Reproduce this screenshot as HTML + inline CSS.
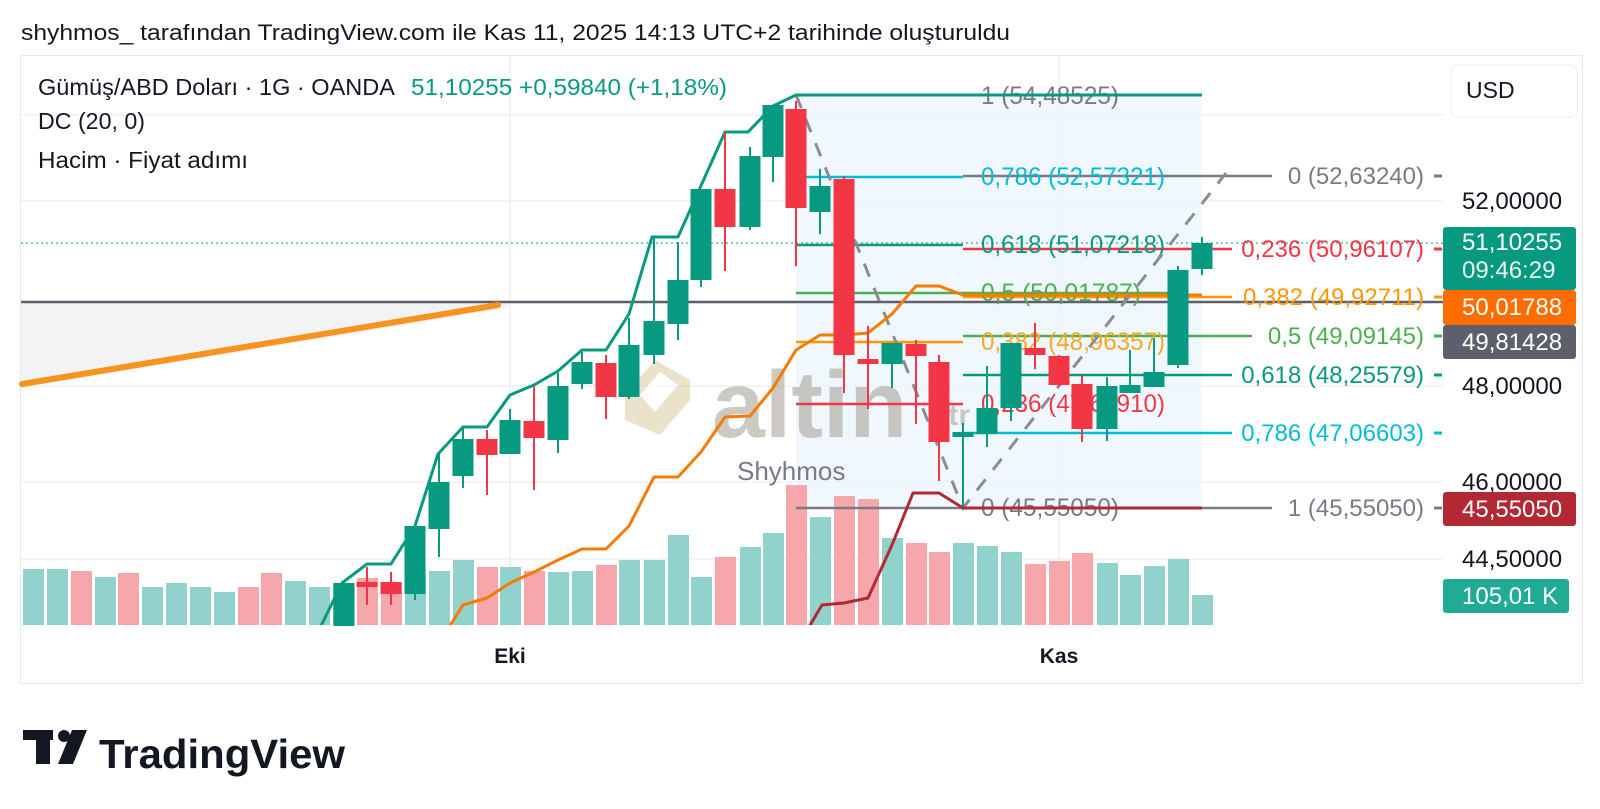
<!DOCTYPE html>
<html><head><meta charset="utf-8"><style>
html,body{margin:0;padding:0;background:#fff;width:1600px;height:809px;overflow:hidden}
svg{display:block}
text{font-family:"Liberation Sans",sans-serif}
</style></head><body>
<svg width="1600" height="809" viewBox="0 0 1600 809" xmlns="http://www.w3.org/2000/svg">
<rect width="1600" height="809" fill="#fff"/>
<text x="21" y="40" font-size="22" fill="#131722" textLength="989" lengthAdjust="spacingAndGlyphs">shyhmos_ tarafından TradingView.com ile Kas 11, 2025 14:13 UTC+2 tarihinde oluşturuldu</text>
<rect x="20.5" y="55.5" width="1562" height="628" fill="#fff" stroke="#e6e8ee"/>
<g stroke="#eef0f3" stroke-width="1.5">
<line x1="21" y1="201" x2="1443" y2="201"/><line x1="21" y1="386" x2="1443" y2="386"/>
<line x1="21" y1="482" x2="1443" y2="482"/><line x1="21" y1="559" x2="1443" y2="559"/>
<line x1="21" y1="115" x2="1443" y2="115"/>
<line x1="510" y1="56" x2="510" y2="625"/><line x1="1059" y1="56" x2="1059" y2="625"/>
</g>
<polygon points="21,302 508,302 508,308 21,388" fill="#f2f3f5"/>
<rect x="796" y="95" width="406" height="413" fill="#eef6fc" opacity="0.8"/>
<g opacity="0.5">
<polygon points="625,395 655,360 690,380 690,400 660,435 625,420" fill="#d8c79a"/>
<polygon points="640,395 660,372 678,385 655,412" fill="#fff"/>
<text x="712" y="437" font-size="95" font-weight="bold" fill="#9a9488">altin</text>
<text x="940" y="425" font-size="30" font-weight="bold" fill="#9a9488">.tr</text>
</g>
<text x="737" y="480" font-size="26" fill="#787b86">Shyhmos</text>
<g>
<rect x="23" y="569" width="21" height="56" fill="#92d2cc"/>
<rect x="47" y="569" width="21" height="56" fill="#92d2cc"/>
<rect x="71" y="571" width="21" height="54" fill="#f5a7ac"/>
<rect x="95" y="577" width="21" height="48" fill="#92d2cc"/>
<rect x="118" y="573" width="21" height="52" fill="#f5a7ac"/>
<rect x="142" y="587" width="21" height="38" fill="#92d2cc"/>
<rect x="166" y="583" width="21" height="42" fill="#92d2cc"/>
<rect x="190" y="587" width="21" height="38" fill="#92d2cc"/>
<rect x="214" y="592" width="21" height="33" fill="#92d2cc"/>
<rect x="238" y="587" width="21" height="38" fill="#f5a7ac"/>
<rect x="261" y="573" width="21" height="52" fill="#f5a7ac"/>
<rect x="285" y="581" width="21" height="44" fill="#92d2cc"/>
<rect x="309" y="587" width="21" height="38" fill="#92d2cc"/>
<rect x="333" y="583" width="21" height="42" fill="#92d2cc"/>
<rect x="357" y="578" width="21" height="47" fill="#f5a7ac"/>
<rect x="381" y="583" width="21" height="42" fill="#f5a7ac"/>
<rect x="405" y="575" width="21" height="50" fill="#92d2cc"/>
<rect x="429" y="571" width="21" height="54" fill="#92d2cc"/>
<rect x="453" y="560" width="21" height="65" fill="#92d2cc"/>
<rect x="477" y="567" width="21" height="58" fill="#f5a7ac"/>
<rect x="500" y="567" width="21" height="58" fill="#92d2cc"/>
<rect x="524" y="571" width="21" height="54" fill="#f5a7ac"/>
<rect x="548" y="572" width="21" height="53" fill="#92d2cc"/>
<rect x="572" y="571" width="21" height="54" fill="#92d2cc"/>
<rect x="596" y="565" width="21" height="60" fill="#f5a7ac"/>
<rect x="619" y="560" width="21" height="65" fill="#92d2cc"/>
<rect x="644" y="560" width="21" height="65" fill="#92d2cc"/>
<rect x="668" y="535" width="21" height="90" fill="#92d2cc"/>
<rect x="691" y="577" width="21" height="48" fill="#92d2cc"/>
<rect x="715" y="557" width="21" height="68" fill="#f5a7ac"/>
<rect x="740" y="547" width="21" height="78" fill="#92d2cc"/>
<rect x="763" y="533" width="21" height="92" fill="#92d2cc"/>
<rect x="786" y="485" width="21" height="140" fill="#f5a7ac"/>
<rect x="810" y="517" width="21" height="108" fill="#92d2cc"/>
<rect x="834" y="496" width="21" height="129" fill="#f5a7ac"/>
<rect x="858" y="499" width="21" height="126" fill="#f5a7ac"/>
<rect x="882" y="538" width="21" height="87" fill="#92d2cc"/>
<rect x="906" y="543" width="21" height="82" fill="#f5a7ac"/>
<rect x="929" y="552" width="21" height="73" fill="#f5a7ac"/>
<rect x="953" y="543" width="21" height="82" fill="#92d2cc"/>
<rect x="977" y="546" width="21" height="79" fill="#92d2cc"/>
<rect x="1001" y="552" width="21" height="73" fill="#92d2cc"/>
<rect x="1025" y="564" width="21" height="61" fill="#f5a7ac"/>
<rect x="1049" y="561" width="21" height="64" fill="#f5a7ac"/>
<rect x="1072" y="553" width="21" height="72" fill="#f5a7ac"/>
<rect x="1097" y="563" width="21" height="62" fill="#92d2cc"/>
<rect x="1120" y="575" width="21" height="50" fill="#92d2cc"/>
<rect x="1144" y="566" width="21" height="59" fill="#92d2cc"/>
<rect x="1168" y="559" width="21" height="66" fill="#92d2cc"/>
<rect x="1192" y="595" width="21" height="30" fill="#92d2cc"/>
</g>
<line x1="21" y1="302" x2="1443" y2="302" stroke="#5d606b" stroke-width="2.5"/>
<line x1="22" y1="384" x2="498" y2="305" stroke="#f7931e" stroke-width="6" stroke-linecap="round"/>
<line x1="21" y1="243" x2="1443" y2="243" stroke="#089981" stroke-width="1" stroke-dasharray="2 3"/>
<g stroke-width="2.5">
<line x1="796" y1="95" x2="1202" y2="95" stroke="#089981"/>
<line x1="796" y1="177" x2="963" y2="177" stroke="#00bcd4"/>
<line x1="796" y1="245" x2="963" y2="245" stroke="#089981"/>
<line x1="796" y1="293" x2="1178" y2="293" stroke="#4caf50"/>
<line x1="796" y1="342" x2="963" y2="342" stroke="#ff9800"/>
<line x1="796" y1="404" x2="963" y2="404" stroke="#f23645"/>
<line x1="796" y1="508" x2="963" y2="508" stroke="#787b86"/>
</g>
<g stroke-width="2.5">
<line x1="963" y1="176" x2="1272" y2="176" stroke="#787b86"/>
<line x1="963" y1="249" x2="1232" y2="249" stroke="#f23645"/>
<line x1="963" y1="297" x2="1232" y2="297" stroke="#ff9800"/>
<line x1="963" y1="336" x2="1252" y2="336" stroke="#4caf50"/>
<line x1="963" y1="375" x2="1232" y2="375" stroke="#089981"/>
<line x1="963" y1="433" x2="1232" y2="433" stroke="#00bcd4"/>
<line x1="963" y1="508" x2="1272" y2="508" stroke="#787b86"/>
</g>
<g font-size="25">
<text x="981" y="104" fill="#787b86" textLength="138" lengthAdjust="spacingAndGlyphs">1 (54,48525)</text>
<text x="981" y="185" fill="#00bcd4" textLength="184" lengthAdjust="spacingAndGlyphs">0,786 (52,57321)</text>
<text x="981" y="253" fill="#089981" textLength="184" lengthAdjust="spacingAndGlyphs">0,618 (51,07218)</text>
<text x="981" y="301" fill="#4caf50" textLength="160" lengthAdjust="spacingAndGlyphs">0,5 (50,01787)</text>
<text x="981" y="350" fill="#f9a825" textLength="184" lengthAdjust="spacingAndGlyphs">0,382 (48,96357)</text>
<text x="981" y="412" fill="#f23645" textLength="184" lengthAdjust="spacingAndGlyphs">0,236 (47,66910)</text>
<text x="981" y="516" fill="#787b86" textLength="138" lengthAdjust="spacingAndGlyphs">0 (45,55050)</text>
</g>
<g font-size="24" text-anchor="end">
<text x="1424" y="184" fill="#787b86">0 (52,63240)</text>
<text x="1424" y="257" fill="#f23645">0,236 (50,96107)</text>
<text x="1424" y="305" fill="#ff9800">0,382 (49,92711)</text>
<text x="1424" y="344" fill="#4caf50">0,5 (49,09145)</text>
<text x="1424" y="383" fill="#089981">0,618 (48,25579)</text>
<text x="1424" y="441" fill="#00bcd4">0,786 (47,06603)</text>
<text x="1424" y="516" fill="#787b86">1 (45,55050)</text>
</g>
<g stroke-width="3">
<line x1="1434" y1="176" x2="1442" y2="176" stroke="#787b86"/>
<line x1="1434" y1="249" x2="1442" y2="249" stroke="#f23645"/>
<line x1="1434" y1="297" x2="1442" y2="297" stroke="#ff9800"/>
<line x1="1434" y1="336" x2="1442" y2="336" stroke="#4caf50"/>
<line x1="1434" y1="375" x2="1442" y2="375" stroke="#089981"/>
<line x1="1434" y1="433" x2="1442" y2="433" stroke="#00bcd4"/>
<line x1="1434" y1="508" x2="1442" y2="508" stroke="#787b86"/>
</g>
<polyline points="796,95 963,508 1226,173" fill="none" stroke="#8a8d96" stroke-width="3" stroke-dasharray="14 12"/>
<clipPath id="pc"><rect x="21" y="56" width="1422" height="569"/></clipPath>
<g clip-path="url(#pc)" fill="none" stroke-width="3" stroke-linejoin="round">
<polyline stroke="#089981" points="318,632 342,583 367,564 391,564 415,526 438,454 463,427 487,427 510,395 534,385 558,371 582,350 606,350 629,314 652,237 678,237 700,188 725,132 748,132 773,106 796,95 1202,95"/>
<polyline stroke="#f57c00" points="446,632 463,605 487,598 510,583 534,572 558,560 582,549 606,549 629,526 654,477 678,477 701,452 725,417 750,416 773,388 796,350 820,335 844,335 868,333 892,314 916,286 939,286 963,295 1202,295"/>
<polyline stroke="#b22833" points="806,632 822,605 844,603 868,598 892,545 913,493 939,493 963,508 1202,508"/>
</g>
<g>
<g stroke="#089981" stroke-width="2" fill="#089981">
<rect x="334.5" y="584" width="19" height="41"/>
<line x1="415" y1="527" x2="415" y2="600"/><rect x="405.5" y="527" width="19" height="66"/>
<line x1="439" y1="454" x2="439" y2="557"/><rect x="429.5" y="483" width="19" height="45"/>
<line x1="463" y1="428" x2="463" y2="488"/><rect x="453.5" y="440" width="19" height="35"/>
<line x1="510" y1="409" x2="510" y2="453"/><rect x="500.5" y="421" width="19" height="32"/>
<line x1="558" y1="373" x2="558" y2="453"/><rect x="548.5" y="387" width="19" height="52"/>
<line x1="582" y1="352" x2="582" y2="389"/><rect x="572.5" y="363" width="19" height="20"/>
<line x1="629" y1="318" x2="629" y2="399"/><rect x="619.5" y="346" width="19" height="50"/>
<line x1="654" y1="238" x2="654" y2="364"/><rect x="644.5" y="322" width="19" height="32"/>
<line x1="678" y1="242" x2="678" y2="340"/><rect x="668.5" y="281" width="19" height="42"/>
<line x1="701" y1="190" x2="701" y2="287"/><rect x="691.5" y="190" width="19" height="89"/>
<line x1="750" y1="147" x2="750" y2="230"/><rect x="740.5" y="157" width="19" height="69"/>
<line x1="773" y1="106" x2="773" y2="182"/><rect x="763.5" y="106" width="19" height="50"/>
<line x1="820" y1="169" x2="820" y2="234"/><rect x="810.5" y="187" width="19" height="24"/>
<line x1="892" y1="344" x2="892" y2="388"/><rect x="882.5" y="344" width="19" height="19"/>
<line x1="963" y1="423" x2="963" y2="507"/><rect x="953.5" y="433" width="19" height="3"/>
<line x1="987" y1="366" x2="987" y2="447"/><rect x="977.5" y="409" width="19" height="24"/>
<line x1="1011" y1="344" x2="1011" y2="421"/><rect x="1001.5" y="344" width="19" height="63"/>
<line x1="1107" y1="377" x2="1107" y2="441"/><rect x="1097.5" y="387" width="19" height="41"/>
<line x1="1130" y1="350" x2="1130" y2="393"/><rect x="1120.5" y="386" width="19" height="6"/>
<line x1="1154" y1="338" x2="1154" y2="386"/><rect x="1144.5" y="373" width="19" height="13"/>
<line x1="1178" y1="266" x2="1178" y2="368"/><rect x="1168.5" y="271" width="19" height="93"/>
<line x1="1202" y1="237" x2="1202" y2="275"/><rect x="1192.5" y="244" width="19" height="24"/>
</g>
<g stroke="#f23645" stroke-width="2" fill="#f23645">
<line x1="367" y1="567" x2="367" y2="605"/><rect x="357.5" y="583" width="19" height="3"/>
<line x1="391" y1="572" x2="391" y2="605"/><rect x="381.5" y="583" width="19" height="10"/>
<line x1="487" y1="430" x2="487" y2="495"/><rect x="477.5" y="440" width="19" height="14"/>
<line x1="534" y1="386" x2="534" y2="490"/><rect x="524.5" y="422" width="19" height="15"/>
<line x1="606" y1="355" x2="606" y2="419"/><rect x="596.5" y="364" width="19" height="32"/>
<line x1="725" y1="132" x2="725" y2="271"/><rect x="715.5" y="190" width="19" height="36"/>
<line x1="796" y1="101" x2="796" y2="266"/><rect x="786.5" y="110" width="19" height="97"/>
<line x1="844" y1="176" x2="844" y2="393"/><rect x="834.5" y="180" width="19" height="174"/>
<line x1="868" y1="326" x2="868" y2="409"/><rect x="858.5" y="360" width="19" height="3"/>
<line x1="916" y1="340" x2="916" y2="424"/><rect x="906.5" y="345" width="19" height="10"/>
<line x1="939" y1="355" x2="939" y2="481"/><rect x="929.5" y="363" width="19" height="78"/>
<line x1="1035" y1="323" x2="1035" y2="369"/><rect x="1025.5" y="349" width="19" height="5"/>
<line x1="1059" y1="355" x2="1059" y2="386"/><rect x="1049.5" y="357" width="19" height="27"/>
<line x1="1082" y1="376" x2="1082" y2="442"/><rect x="1072.5" y="385" width="19" height="43"/>
</g>
</g>
<text x="38" y="95" font-size="23" fill="#131722" textLength="357" lengthAdjust="spacingAndGlyphs">Gümüş/ABD Doları · 1G · OANDA</text>
<text x="411" y="95" font-size="23" fill="#089981" textLength="316" lengthAdjust="spacingAndGlyphs">51,10255  +0,59840 (+1,18%)</text>
<text x="38" y="129" font-size="23" fill="#131722" textLength="107" lengthAdjust="spacingAndGlyphs">DC (20, 0)</text>
<text x="38" y="168" font-size="23" fill="#131722" textLength="210" lengthAdjust="spacingAndGlyphs">Hacim · Fiyat adımı</text>
<rect x="1451" y="65" width="126" height="52" rx="6" fill="#fff" stroke="#eceef2"/>
<text x="1466" y="98" font-size="23" fill="#131722">USD</text>
<g font-size="24" fill="#131722">
<text x="1462" y="209">52,00000</text>
<text x="1462" y="394">48,00000</text>
<text x="1462" y="490">46,00000</text>
<text x="1462" y="567">44,50000</text>
</g>
<rect x="1443" y="227" width="133" height="63" rx="3" fill="#089981"/>
<text x="1462" y="250" font-size="24" fill="#fff">51,10255</text>
<text x="1462" y="278" font-size="24" fill="#e6f5f2">09:46:29</text>
<rect x="1443" y="290" width="133" height="35" rx="3" fill="#ff6d00"/>
<text x="1462" y="315" font-size="24" fill="#fff">50,01788</text>
<rect x="1443" y="325" width="133" height="34" rx="3" fill="#5d606b"/>
<text x="1462" y="350" font-size="24" fill="#fff">49,81428</text>
<rect x="1443" y="492" width="133" height="34" rx="3" fill="#b22833"/>
<text x="1462" y="517" font-size="24" fill="#fff">45,55050</text>
<rect x="1443" y="579" width="126" height="34" rx="3" fill="#22ab94"/>
<text x="1462" y="604" font-size="24" fill="#fff">105,01 K</text>
<text x="510" y="663" font-size="21" font-weight="bold" fill="#131722" text-anchor="middle">Eki</text>
<text x="1059" y="663" font-size="21" font-weight="bold" fill="#131722" text-anchor="middle">Kas</text>
<g fill="#131722">
<rect x="23" y="730" width="30" height="10"/>
<rect x="36" y="730" width="14" height="34"/>
<circle cx="64" cy="736" r="6"/>
<polygon points="72,730 87,730 73,764 58,764"/>
</g>
<text x="99" y="768" font-size="41" font-weight="bold" fill="#131722" textLength="246" lengthAdjust="spacingAndGlyphs">TradingView</text>
</svg>
</body></html>
